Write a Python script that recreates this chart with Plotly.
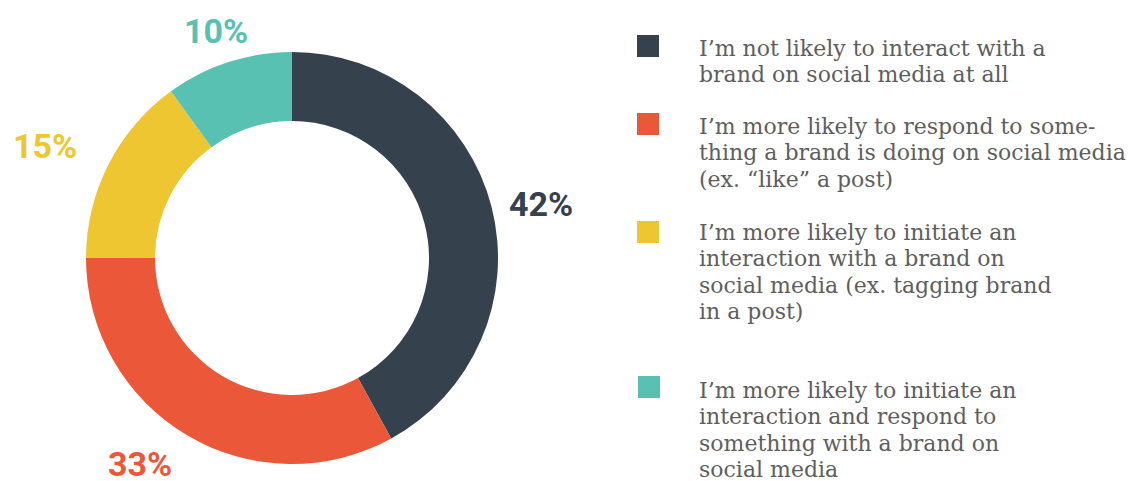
import plotly.graph_objects as go

W, H = 1147, 481

# Survey responses, one list of text lines per answer
categories = [
    ["I’m not likely to interact with a", "brand on social media at all"],
    ["I’m more likely to respond to some-", "thing a brand is doing on social media", "(ex. “like” a post)"],
    ["I’m more likely to initiate an", "interaction with a brand on", "social media (ex. tagging brand", "in a post)"],
    ["I’m more likely to initiate an", "interaction and respond to", "something with a brand on", "social media"],
]
shares = [42, 33, 15, 10]
colors = ["#35414d", "#eb5739", "#edc631", "#58c1b2"]

# Pixel placement of the donut, its labels and the key
cx, cy, r_out = 292, 258, 206
label_pos = [(541, 204), (140, 464), (45, 146), (216, 31)]
legend_sq = [(637, 35), (637, 113), (637, 221), (638, 376)]
legend_first_baseline = [55, 133, 239, 397]
line_step = 26.5
legend_font = 22


def px(x):
    return x / W


def py(y):
    return 1 - y / H


fig = go.Figure(
    go.Pie(
        values=shares,
        labels=[" ".join(c) for c in categories],
        marker=dict(colors=colors, line=dict(width=0)),
        hole=0.665,
        sort=False,
        direction="clockwise",
        rotation=0,
        textinfo="none",
        hoverinfo="label+percent",
        showlegend=False,
        domain=dict(x=[px(cx - r_out), px(cx + r_out)], y=[py(cy + r_out), py(cy - r_out)]),
    )
)

annotations = []
for v, c, (lx, ly) in zip(shares, colors, label_pos):
    annotations.append(dict(
        x=px(lx), y=py(ly), xref="paper", yref="paper",
        text=f"<b>{v}%</b>", showarrow=False,
        xanchor="center", yanchor="middle",
        font=dict(family="Roboto", size=34, color=c),
    ))

shapes = []
for c, (sx, sy), lines, b0 in zip(colors, legend_sq, categories, legend_first_baseline):
    shapes.append(dict(
        type="rect", xref="paper", yref="paper",
        x0=px(sx), x1=px(sx + 22), y0=py(sy + 22), y1=py(sy),
        fillcolor=c, line=dict(width=0),
    ))
    for i, line in enumerate(lines):
        base = b0 + i * line_step
        annotations.append(dict(
            x=px(697), y=py(base - 0.3 * legend_font), xref="paper", yref="paper",
            text=line, showarrow=False, align="left",
            xanchor="left", yanchor="middle",
            font=dict(family="DejaVu Serif", size=legend_font, color="#5e5e5e"),
        ))

fig.update_layout(
    width=W, height=H,
    margin=dict(l=0, r=0, t=0, b=0),
    paper_bgcolor="white", plot_bgcolor="white",
    annotations=annotations, shapes=shapes,
)

fig.write_html("out.html")
